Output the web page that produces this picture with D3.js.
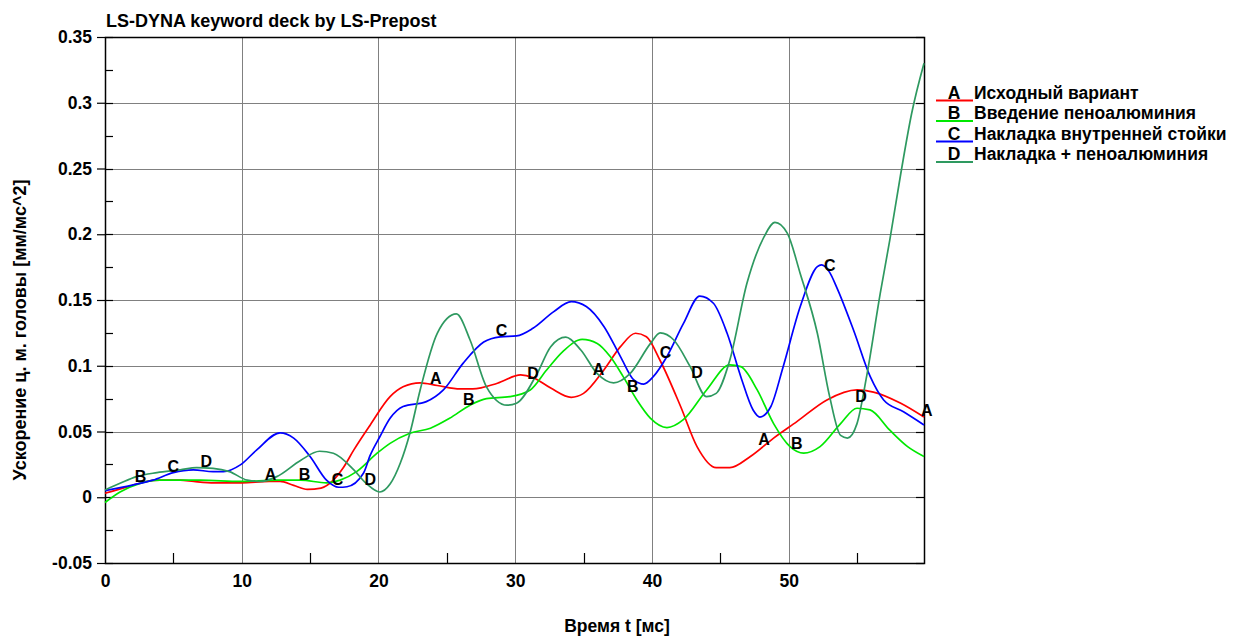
<!DOCTYPE html>
<html>
<head>
<meta charset="utf-8">
<script src="https://cdn.jsdelivr.net/npm/d3@7"></script>
<style>
  body { margin: 0; background: #fff; }
  svg text { font-family: "Liberation Sans", Arial, sans-serif; font-weight: bold; fill: #000; }
</style>
</head>
<body>
<svg id="chart" width="1235" height="636"></svg>
<script>
// series: [time ms, acceleration]
var seriesA = [[0,0.003],[1,0.006],[2,0.009],[3,0.012],[4,0.013],[5.5,0.013],[6.5,0.012],[8,0.011],[10,0.011],[12,0.012],
  [12.8,0.012],[13.8,0.009],[14.8,0.006],[15.8,0.007],[16.7,0.013],[17.4,0.022],[18.2,0.036],[19.4,0.055],[20.85,0.0765],
  [21.8,0.084],[23.05,0.087],[24.3,0.085],[25.97,0.0824],[26.9,0.0824],[28.7,0.0867],[30.4,0.093],[31.3,0.091],[32.6,0.083],
  [34.1,0.076],[35,0.079],[36.5,0.097],[37.7,0.1145],[38.8,0.1247],[39.6,0.122],[40.6,0.104],[42.1,0.069],[43.3,0.0385],
  [44.7,0.0225],[45.7,0.0225],[47.2,0.031],[48.9,0.045],[50.6,0.0575],[52.8,0.074],[55,0.0816],[56.2,0.080],[58.2,0.0715],[59.9,0.061]];

var seriesB = [[0,-0.004],[1.1,0.004],[2.56,0.0106],[4,0.013],[7,0.013],[9.9,0.012],[12.6,0.013],[14.3,0.013],[16.2,0.011],
  [17.2,0.013],[18.4,0.0195],[19.9,0.0335],[20.85,0.041],[22.3,0.0487],[23.8,0.0525],[25.2,0.060],[26.7,0.070],[27.9,0.075],
  [29.6,0.0765],[31.1,0.0816],[32.3,0.0968],[33.5,0.111],[34.9,0.120],[36,0.117],[36.95,0.107],[37.9,0.0917],[38.9,0.074],
  [39.9,0.060],[41.1,0.053],[42.3,0.059],[44,0.0816],[45.7,0.1006],[46.5,0.0993],[47.7,0.0816],[48.9,0.056],[50.1,0.0385],
  [51.1,0.0335],[52.3,0.0385],[53.8,0.056],[55,0.0677],[55.95,0.0664],[57.4,0.051],[58.7,0.0385],[59.9,0.031]];

var seriesC = [[0,0.005],[2.07,0.0094],[3.5,0.013],[5,0.0187],[6.46,0.0208],[7.9,0.0195],[8.66,0.0195],[9.9,0.0246],[11.1,0.036],
  [12.8,0.049],[13.8,0.045],[15,0.031],[16.2,0.013],[17.1,0.0076],[17.7,0.008],[18.9,0.0182],[19.4,0.032],[20.1,0.046],
  [20.85,0.060],[21.8,0.069],[23.5,0.0727],[24.75,0.0816],[26.2,0.102],[27.7,0.118],[28.9,0.122],[30.1,0.1227],[31.3,0.1285],
  [32.8,0.141],[34.1,0.1487],[35.2,0.145],[36.5,0.1297],[37.7,0.107],[38.7,0.089],[39.4,0.086],[40.1,0.0917],[41.1,0.107],
  [42.3,0.132],[43.5,0.153],[44.5,0.1475],[45.5,0.1247],[46.5,0.0917],[47.4,0.0664],[47.9,0.061],[48.7,0.069],[49.6,0.0993],
  [50.85,0.145],[52.1,0.1754],[52.4,0.1767],[53.0,0.171],[53.5,0.160],[54.75,0.127],[55.97,0.0917],[56.95,0.074],[58.4,0.065],[59.9,0.055]];

var seriesD = [[0,0.0055],[1.1,0.0106],[2.3,0.0157],[3.8,0.0187],[5.5,0.0208],[6.7,0.0225],[7.9,0.022],[9.1,0.0195],[10.4,0.013],
  [11.3,0.012],[12.56,0.0157],[14.3,0.028],[15.7,0.035],[16.7,0.0335],[18.2,0.0208],[19.1,0.0106],[20.1,0.004],[20.85,0.010],
  [21.6,0.026],[22.3,0.0487],[23.05,0.0816],[24.3,0.1247],[25.7,0.1394],[26.7,0.1196],[27.9,0.084],[29.4,0.070],[30.1,0.0715],
  [31.6,0.094],[32.6,0.1145],[33.7,0.1217],[34.8,0.112],[36,0.094],[37.2,0.087],[38.4,0.094],[39.9,0.117],[40.6,0.125],
  [41.6,0.1196],[42.8,0.0993],[44,0.0765],[44.7,0.079],[45.7,0.1044],[46.95,0.1627],[48.2,0.198],[49.0,0.209],[49.9,0.2008],
  [50.85,0.170],[52.1,0.1247],[53,0.0765],[53.8,0.047],[54.3,0.045],[55,0.056],[55.7,0.0917],[56.7,0.155],[57.4,0.1957],
  [58.2,0.246],[59.0,0.292],[59.9,0.330]];

// where the curve letters sit (time ms)
var labelsA = [12.1, 24.2, 36.1, 48.2, 60.1];
var labelsB = [2.6, 14.6, 26.6, 38.6, 50.6];
var labelsC = [5.0, 17.0, 29.0, 41.0, 53.0];
var labelsD = [7.4, 19.4, 31.3, 43.3, 55.3];

var letters = ["A", "B", "C", "D"];
var names = ["Исходный вариант", "Введение пеноалюминия", "Накладка внутренней стойки", "Накладка + пеноалюминия"];
var colors = ["#ff0000", "#00e800", "#0000ff", "#2e9960"];

var xMajor = [0, 10, 20, 30, 40, 50];
var xMinor = [5, 15, 25, 35, 45, 55];
var yMajor = [-0.05, 0, 0.05, 0.1, 0.15, 0.2, 0.25, 0.3, 0.35];
var yMinor = [-0.025, 0.025, 0.075, 0.125, 0.175, 0.225, 0.275, 0.325];

var svg = d3.select("#chart");
var pL = 105, pR = 924, pT = 37, pB = 563;
var fs = 17.5;

var x = d3.scaleLinear().domain([0, 59.9]).range([pL, pR]);
var y = d3.scaleLinear().domain([-0.05, 0.35]).range([pB, pT]);
var px = function(v) { return Math.round(x(v)) + 0.5; };
var py = function(v) { return Math.round(y(v)) + 0.5; };

// grid
var grid = svg.append("g").attr("stroke", "#808080").attr("stroke-width", 1);
grid.selectAll("line.gx").data(xMajor.slice(1)).enter().append("line")
    .attr("x1", px).attr("x2", px).attr("y1", pT).attr("y2", pB);
grid.selectAll("line.gy").data(yMajor.slice(1, -1)).enter().append("line")
    .attr("y1", py).attr("y2", py).attr("x1", pL).attr("x2", pR);

// inward ticks
var ticks = svg.append("g").attr("stroke", "#000").attr("stroke-width", 1.2);
ticks.selectAll("line.ml").data(yMinor.concat(yMajor)).enter().append("line")
    .attr("x1", pL).attr("x2", pL + 8).attr("y1", py).attr("y2", py);
ticks.selectAll("line.mr").data(yMajor).enter().append("line")
    .attr("x1", pR - 8).attr("x2", pR).attr("y1", py).attr("y2", py);
ticks.selectAll("line.mb").data(xMinor).enter().append("line")
    .attr("y1", pB - 10).attr("y2", pB).attr("x1", px).attr("x2", px);

// axes
var fmt = function(d) { return String(+d.toFixed(3)); };
var yAxis = svg.append("g").attr("transform", "translate(" + pL + ",0)")
    .call(d3.axisLeft(y).tickValues(yMajor).tickFormat(fmt).tickSizeInner(8).tickSizeOuter(0).tickPadding(5));
var xAxis = svg.append("g").attr("transform", "translate(0," + pB + ")")
    .call(d3.axisBottom(x).tickValues(xMajor).tickFormat(fmt).tickSize(0).tickPadding(12));
[yAxis, xAxis].forEach(function(a) {
    a.select(".domain").remove();
    a.selectAll("text").attr("font-size", fs).attr("font-family", null).attr("fill", "#000");
    a.selectAll("line").attr("stroke", "#000").attr("stroke-width", 1.2);
});

// frame
svg.append("rect").attr("x", pL + 0.5).attr("y", pT + 0.5)
    .attr("width", pR - pL).attr("height", pB - pT)
    .attr("fill", "none").attr("stroke", "#000").attr("stroke-width", 1.5);

// curves
var line = d3.line().x(function(d) { return x(d[0]); }).y(function(d) { return y(d[1]); }).curve(d3.curveMonotoneX);
var allSeries = [seriesA, seriesB, seriesC, seriesD];
var allLabels = [labelsA, labelsB, labelsC, labelsD];

svg.append("g").selectAll("path").data(allSeries).enter().append("path")
    .attr("d", line).attr("fill", "none")
    .attr("stroke", function(d, i) { return colors[i]; }).attr("stroke-width", 1.7);

function valueAt(s, t) {
    if (t <= s[0][0]) return s[0][1];
    if (t >= s[s.length - 1][0]) return s[s.length - 1][1];
    var i = d3.bisector(function(p) { return p[0]; }).right(s, t);
    var a = s[i - 1], b = s[i];
    return a[1] + (b[1] - a[1]) * (t - a[0]) / (b[0] - a[0]);
}

var lab = svg.append("g").attr("font-size", 16).attr("text-anchor", "middle");
allLabels.forEach(function(ts, i) {
    lab.selectAll("text.l" + i).data(ts).enter().append("text")
        .attr("x", function(t) { return x(t); })
        .attr("y", function(t) { return y(valueAt(allSeries[i], t)) - 1; })
        .text(letters[i]);
});

// titles
svg.append("text").attr("x", 106).attr("y", 27).attr("font-size", 18).text("LS-DYNA keyword deck by LS-Prepost");
svg.append("text").attr("x", 617).attr("y", 632).attr("font-size", fs).attr("text-anchor", "middle").text("Время t [мс]");
svg.append("text").attr("transform", "translate(20,330) rotate(-90)").attr("dy", "0.35em")
    .attr("font-size", 18).attr("text-anchor", "middle").text("Ускорение ц. м. головы [мм/мс^2]");

// legend
var legend = svg.append("g");
var rows = legend.selectAll("g").data(names).enter().append("g")
    .attr("transform", function(d, i) { return "translate(0," + (100.5 + i * 20.5) + ")"; });
rows.append("line").attr("x1", 936).attr("x2", 973).attr("y1", 0).attr("y2", 0)
    .attr("stroke", function(d, i) { return colors[i]; }).attr("stroke-width", 2);
rows.append("text").attr("x", 954).attr("y", -2).attr("font-size", fs).attr("text-anchor", "middle")
    .text(function(d, i) { return letters[i]; });
rows.append("text").attr("x", 974).attr("y", -2).attr("font-size", fs).text(function(d) { return d; });
</script>
</body>
</html>
